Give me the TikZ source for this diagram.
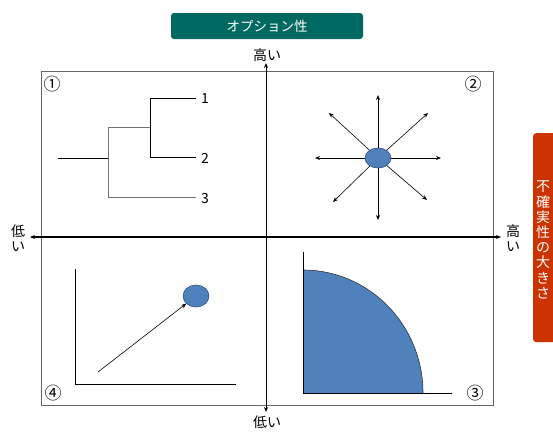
\documentclass[tikz,border=0pt]{standalone}
\usepackage{fontspec}
\setmainfont{Noto Sans CJK JP}
\usetikzlibrary{arrows.meta}
\definecolor{tealbox}{HTML}{006A62}
\definecolor{orangebox}{HTML}{CC3300}
\definecolor{blobfill}{HTML}{4F81BD}
\definecolor{blobline}{HTML}{2F4F7A}
\tikzset{
  lbl/.style={font=\fontsize{14}{15}\selectfont, inner sep=0pt},
  num/.style={font=\fontsize{14}{15}\selectfont, inner sep=0pt},
  circ/.style={font=\fontsize{17}{18}\selectfont, inner sep=0pt},
  tip/.style={-{Stealth[length=5pt,width=4pt]}},
  blob/.style={ellipse, draw=blobline, fill=blobfill, line width=0.6pt, inner sep=0pt},
  tree/.style={line width=0.7pt},
  treeg/.style={line width=0.7pt, draw=black!55},
}
\usetikzlibrary{shapes.geometric}
\begin{document}
\begin{tikzpicture}[x=1pt,y=-1pt]
\useasboundingbox (0,0) rectangle (553,432);
% frame
\draw[draw=black!60, line width=0.9pt] (41,71) rectangle (493,405);
% top label box
\node[fill=tealbox, rounded corners=3pt, minimum width=192pt, minimum height=26pt, text=white, font=\fontsize{13.5}{14}\selectfont, inner sep=0pt] (opt) at (267,26) {オプション性};
% right label box
\node[fill=orangebox, rounded corners=3pt, minimum width=24pt, minimum height=209pt, anchor=north west, inner sep=0pt] (unc) at (533,133) {};
\node[text=white, align=center, font=\fontsize{14}{15.2}\selectfont, inner sep=0pt] (unctxt) at (543,240) {不\\確\\実\\性\\の\\大\\き\\さ};
% axes labels
\node[lbl] (vtop) at (267,55) {高い};
\node[lbl] (vbot) at (267,422) {低い};
\node[lbl, align=center, font=\fontsize{14}{15}\selectfont] (hleft) at (18,238) {低\\い};
\node[lbl, align=center, font=\fontsize{14}{15}\selectfont] (hright) at (513,238) {高\\い};
% axes
\coordinate (vc) at (266,237);
\coordinate (vt) at (266,63);
\coordinate (vb) at (266,412);
\coordinate (hl) at (30,237);
\coordinate (hr) at (501,237);
\draw[tip, line width=0.8pt] (vc) -- (vt);
\draw[tip, line width=0.8pt] (vc) -- (vb);
\draw[tip, line width=1.3pt] (vc) -- (hl);
\draw[tip, line width=1.3pt] (vc) -- (hr);
% quadrant numbers
\node[circ] (q1) at (52,84) {①};
\node[circ] (q2) at (473,84) {②};
\node[circ] (q3) at (475,393) {③};
\node[circ] (q4) at (53,393) {④};
% Q1 dendrogram
\coordinate (r0) at (58,158);
\coordinate (r1) at (108,158);
\coordinate (a) at (108,127);
\coordinate (b) at (108,197);
\coordinate (c) at (150,127);
\coordinate (c1) at (150,98);
\coordinate (c2) at (150,157);
\node[num, anchor=west] (n1) at (201,99) {1};
\node[num, anchor=west] (n2) at (201,158) {2};
\node[num, anchor=west] (n3) at (201,199) {3};
\draw[tree] (r0) -- (r1);
\draw[treeg] (a) -- (b);
\draw[treeg] (a) -- (c);
\draw[treeg] (b) -- (196,197);
\draw[tree] (c1) -- (c2);
\draw[tree] (c1) -- (196,98);
\draw[tree] (c2) -- (196,157);
% Q2 burst
\node[blob, minimum width=26pt, minimum height=20pt] (e2) at (378,158) {};
\coordinate (u) at (378,95);
\coordinate (d) at (378,220);
\coordinate (l) at (315,158);
\coordinate (r) at (441,158);
\coordinate (ul) at (329,113);
\coordinate (ur) at (428,113);
\coordinate (dl) at (333,202);
\coordinate (dr) at (427,200);
\foreach \p in {u,d,l,r}{\draw[tip, line width=0.8pt] (e2) -- (\p);}
\foreach \p in {ul,ur,dl,dr}{\draw[tip, line width=0.6pt] (e2) -- (\p);}
% Q4 growth
\coordinate (o4) at (75,384);
\coordinate (y4) at (75,269);
\coordinate (x4) at (236,384);
\draw[line width=0.9pt] (y4) -- (o4) -- (x4);
\node[blob, minimum width=26pt, minimum height=22pt] (e4) at (196,296) {};
\coordinate (s4) at (98,372);
\draw[tip, line width=0.6pt] (s4) -- (e4);
% Q3 quarter circle
\coordinate (o3) at (303,393);
\coordinate (y3) at (303,252);
\coordinate (x3) at (452,393);
\fill[blobfill] (o3) -- (303,270) arc[start angle=90, end angle=0, x radius=120, y radius=-123] -- cycle;
\draw[black!80, line width=0.6pt] (303,270) arc[start angle=90, end angle=0, x radius=120, y radius=-123];
\draw[line width=0.9pt] (y3) -- (o3) -- (x3);
\end{tikzpicture}
\end{document}
